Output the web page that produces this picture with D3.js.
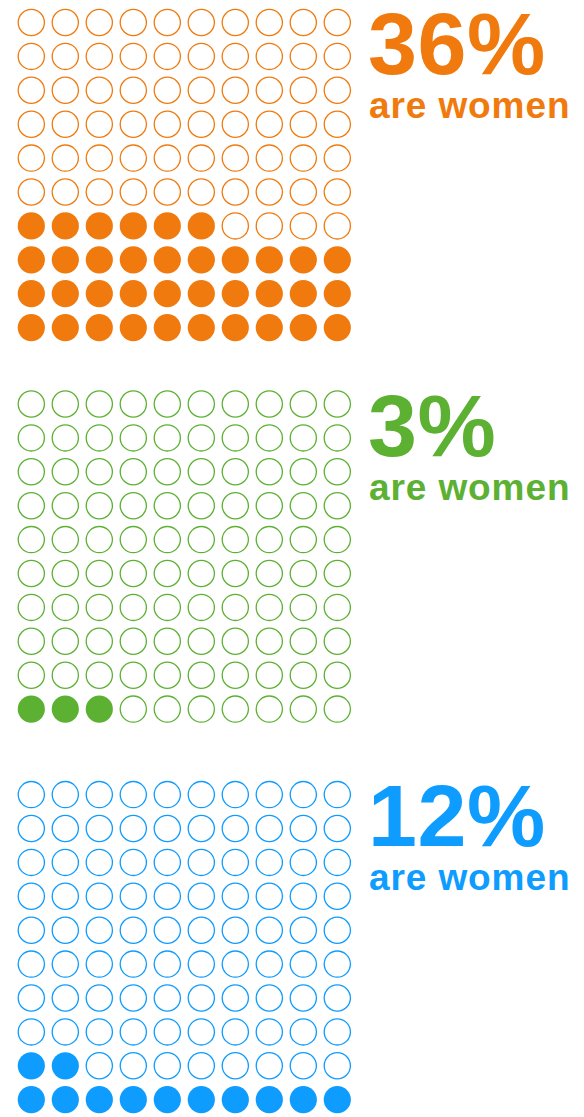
<!DOCTYPE html>
<html>
<head>
<meta charset="utf-8">
<script src="https://cdn.jsdelivr.net/npm/d3@7"></script>
<style>
  html, body { margin: 0; padding: 0; background: #fff; }
  svg { display: block; }
</style>
</head>
<body>
<svg id="chart" width="584" height="1117"></svg>
<script>
// Share of women in each group (out of 100 people)
const groups = ["group1", "group2", "group3"];
const percentWomen = [36, 3, 12];
const labels = ["36%", "3%", "12%"];
const subLabel = "are women";
const colors = ["#f07a0d", "#5cb133", "#0e9cff"];

// Layout: top of each waffle panel
const panelTop = [22.5, 404, 794.6];

const svg = d3.select("#chart");
const cells = d3.range(100);
const cols = d3.range(10);

const x = d3.scaleBand().domain(cols).range([14.3, 354.3]).paddingInner(0);
const y = d3.scaleBand().domain(cols).range([0, 339]).paddingInner(0);
const r = 13.1;

groups.forEach((g, gi) => {
  const top = panelTop[gi];
  const panel = svg.append("g")
    .attr("class", "panel " + g)
    .attr("transform", `translate(0,${top - y.bandwidth() / 2})`);

  // cells fill from the bottom row upward, left to right
  panel.selectAll("circle")
    .data(cells)
    .join("circle")
    .attr("cx", i => x(i % 10) + x.bandwidth() / 2)
    .attr("cy", i => y(9 - Math.floor(i / 10)) + y.bandwidth() / 2)
    .attr("r", i => i < percentWomen[gi] ? 13.6 : r)
    .attr("fill", i => i < percentWomen[gi] ? colors[gi] : "none")
    .attr("stroke", i => i < percentWomen[gi] ? "none" : colors[gi])
    .attr("stroke-width", 1.3);

  const tg = svg.append("g").attr("transform", `translate(368,${top})`);
  tg.append("text")
    .attr("x", 0)
    .attr("y", 51.5)
    .attr("fill", colors[gi])
    .style("font-family", "'Liberation Sans', Arial, Helvetica, sans-serif")
    .style("font-weight", "bold")
    .style("font-size", "88px")
    .style("letter-spacing", "0.5px")
    .text(labels[gi]);
  tg.append("text")
    .attr("x", 1)
    .attr("y", 95.5)
    .attr("fill", colors[gi])
    .style("font-family", "'Liberation Sans', Arial, Helvetica, sans-serif")
    .style("font-weight", "bold")
    .style("font-size", "37px")
    .style("letter-spacing", "0.9px")
    .text(subLabel);
});
</script>
</body>
</html>
